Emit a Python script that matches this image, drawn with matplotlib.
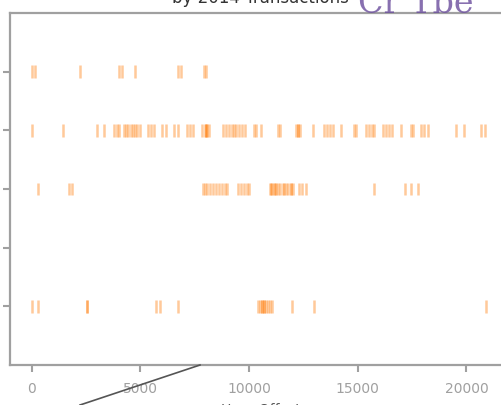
import matplotlib
matplotlib.use('Agg')
import matplotlib.pyplot as plt
from matplotlib.lines import Line2D

# event times per row (row 0 at bottom)
row0 = [0, 290, 2540, 2560, 5720, 5900, 6730,
        10410, 10500, 10590, 10690, 10780, 10870, 10960, 11050, 10600, 10700,
        11970, 12980, 20900]
row1 = []
row2 = [290, 1720, 1850,
        7890, 7980, 8070, 8210, 8350, 8490, 8620, 8760, 8900, 8990,
        9490, 9630, 9770, 9910, 10000,
        10960, 11050, 11150, 11240, 11330, 11420, 11560, 11700, 11790, 11930, 12020,
        11000, 11200, 11600, 11950,
        12300, 12440, 12620, 15750, 17180, 17460, 17780]
row3 = [0, 1440, 3000, 3330, 3790, 3920, 4020, 4245, 4340, 4430, 4570,
        4660, 4750, 4840, 4980, 5350, 5490, 5630, 6000, 6190, 6560, 6730,
        7140, 7280, 7420, 7835, 7970, 8020, 8065, 8160, 8020,
        8810, 8950, 9090, 9230, 9320, 9410, 9550, 9690, 9830,
        10230, 10320, 10550, 11330, 11420, 12160, 12250, 12340, 12250,
        12940, 13440, 13580, 13720, 13860, 14230, 14830, 14920,
        15380, 15520, 15660, 15750, 16170, 16310, 16450, 16590,
        17000, 17460, 17550, 17920, 18060, 18240, 19520, 19890, 20670, 20850]
row4 = [0, 150, 2222, 4016, 4150, 4750, 6730, 6870, 7925, 8020]

rows = [row0, row1, row2, row3, row4]
xticks = [0, 5000, 10000, 15000, 20000]

fig = plt.figure(figsize=(5.01, 4.05), dpi=100)
ax = fig.add_axes([10 / 501, 40 / 405, 501 / 501, 352 / 405])

ax.eventplot(rows, lineoffsets=range(len(rows)), linelengths=0.22,
             linewidths=1.8, colors='#ff7f0e', alpha=0.42)

ax.set_xlim(-1000, 22050)
ax.set_ylim(-1, 5)
ax.set_xticks(xticks)
ax.set_xticklabels([str(t) for t in xticks], fontsize=10, color='#808080')
ax.set_yticks(range(len(rows)))
ax.set_yticklabels([''] * len(rows))
ax.tick_params(colors='#a0a0a0', length=5, width=1.5)
ax.tick_params(axis='x', pad=7)
for s in ax.spines.values():
    s.set_color('#a0a0a0')
    s.set_linewidth(1.6)
ax.spines['right'].set_visible(False)

# title and xlabel sit partly outside the frame, as in the source
ax.set_title('by 2014 Transactions', fontsize=12, color='#333333', pad=7)
ax.set_xlabel('Hour Offset', fontsize=10, color='#555555', labelpad=5)

# overlapping bits from neighbouring content
fig.text(0.715, 0.968, 'Cr Tbe', fontsize=24, color='#6a4c9c', alpha=0.8,
         family='DejaVu Serif')
fig.add_artist(Line2D([80 / 501, 200 / 501], [0.0, 40 / 405],
                      color='#555555', lw=1.2, transform=fig.transFigure))

fig.savefig('out.png', dpi=100)
